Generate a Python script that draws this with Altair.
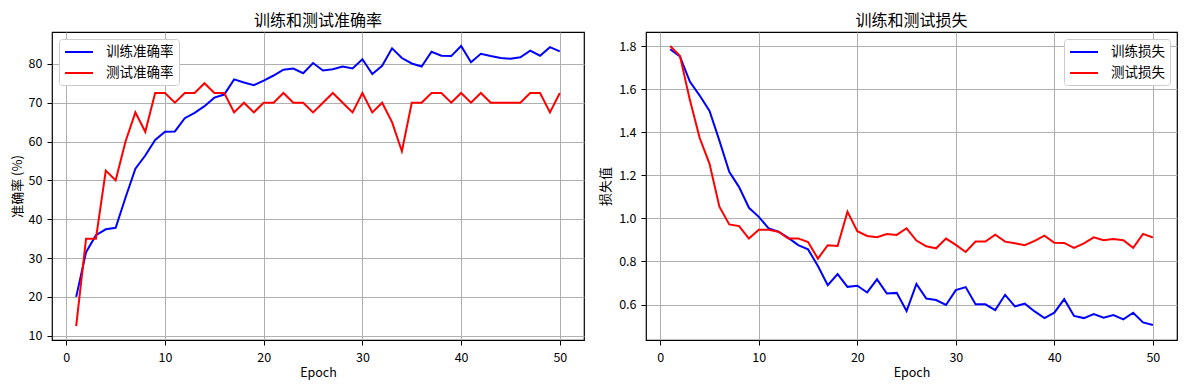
import altair as alt
import pandas as pd

epochs = list(range(1, 51))

train_acc = [20.0, 31.5, 35.9, 37.4, 37.8, 45.6, 53.0, 56.4, 60.4, 62.5,
             62.6, 66.0, 67.4, 69.1, 71.3, 72.1, 76.0, 75.2, 74.5, 75.7,
             77.0, 78.5, 78.8, 77.6, 80.2, 78.3, 78.6, 79.3, 78.8, 81.2,
             77.4, 79.5, 84.0, 81.5, 80.1, 79.3, 83.1, 82.1, 82.0, 84.6,
             80.4, 82.6, 82.0, 81.5, 81.3, 81.7, 83.4, 82.1, 84.3, 83.2]
test_acc = [12.5, 35.0, 35.0, 52.5, 50.0, 60.0, 67.5, 62.5, 72.5, 72.5,
            70.0, 72.5, 72.5, 75.0, 72.5, 72.5, 67.5, 70.0, 67.5, 70.0,
            70.0, 72.5, 70.0, 70.0, 67.5, 70.0, 72.5, 70.0, 67.5, 72.5,
            67.5, 70.0, 65.0, 57.5, 70.0, 70.0, 72.5, 72.5, 70.0, 72.5,
            70.0, 72.5, 70.0, 70.0, 70.0, 70.0, 72.5, 72.5, 67.5, 72.5]
train_loss = [1.785, 1.751, 1.635, 1.570, 1.499, 1.361, 1.216, 1.145, 1.049, 1.007,
              0.953, 0.938, 0.909, 0.876, 0.856, 0.779, 0.690, 0.741, 0.682, 0.687,
              0.656, 0.717, 0.651, 0.654, 0.570, 0.696, 0.628, 0.621, 0.598, 0.667,
              0.681, 0.601, 0.601, 0.574, 0.645, 0.591, 0.604, 0.568, 0.537, 0.562,
              0.625, 0.547, 0.537, 0.556, 0.539, 0.551, 0.531, 0.562, 0.517, 0.505]
test_loss = [1.800, 1.754, 1.550, 1.373, 1.253, 1.054, 0.972, 0.964, 0.906, 0.947,
             0.947, 0.938, 0.906, 0.907, 0.890, 0.813, 0.875, 0.872, 1.031, 0.940,
             0.918, 0.912, 0.927, 0.923, 0.954, 0.897, 0.870, 0.861, 0.906, 0.877,
             0.844, 0.892, 0.892, 0.924, 0.892, 0.884, 0.875, 0.895, 0.920, 0.887,
             0.886, 0.863, 0.884, 0.912, 0.898, 0.904, 0.898, 0.863, 0.928, 0.911]

acc_names = ["训练准确率", "测试准确率"]
loss_names = ["训练损失", "测试损失"]
colors = ["#0000ff", "#ff0000"]

FONT = "Noto Sans CJK SC"

acc_df = pd.DataFrame({
    "epoch": epochs * 2,
    "value": train_acc + test_acc,
    "series": [acc_names[0]] * 50 + [acc_names[1]] * 50,
    "order": [0] * 50 + [1] * 50,
})
loss_df = pd.DataFrame({
    "epoch": epochs * 2,
    "value": train_loss + test_loss,
    "series": [loss_names[0]] * 50 + [loss_names[1]] * 50,
    "order": [0] * 50 + [1] * 50,
})


def x_axis():
    return alt.Axis(values=[0, 10, 20, 30, 40, 50], title="Epoch", grid=True,
                    tickSize=5, labelPadding=6, titlePadding=3,
                    labelFontSize=12.5, titleFontSize=12.5)


def legend(orient):
    return alt.Legend(title=None, orient=orient, offset=7, symbolType="M-2,0H2",
                      symbolSize=196, symbolStrokeWidth=2, labelFontSize=13.5,
                      labelFont=FONT, strokeColor="#cccccc", fillColor="white",
                      cornerRadius=3, padding=5, rowPadding=6, labelOffset=19,
                      symbolOffset=7)


left = alt.Chart(acc_df).mark_line(strokeWidth=2).encode(
    x=alt.X("epoch:Q", scale=alt.Scale(domain=[-1.45, 52.45], nice=False, zero=False),
            axis=x_axis()),
    y=alt.Y("value:Q", scale=alt.Scale(domain=[8.9, 88.2], nice=False, zero=False),
            axis=alt.Axis(values=[10, 20, 30, 40, 50, 60, 70, 80], title="准确率 (%)",
                          tickSize=5, labelPadding=5, titlePadding=4,
                          labelFontSize=12.5, titleFontSize=13)),
    color=alt.Color("series:N", scale=alt.Scale(domain=acc_names, range=colors),
                    legend=legend("top-left")),
    detail="order:O",
).properties(width=532, height=308, title="训练和测试准确率")

right = alt.Chart(loss_df).mark_line(strokeWidth=2).encode(
    x=alt.X("epoch:Q", scale=alt.Scale(domain=[-1.45, 52.45], nice=False, zero=False),
            axis=x_axis()),
    y=alt.Y("value:Q", scale=alt.Scale(domain=[0.4353, 1.865], nice=False, zero=False),
            axis=alt.Axis(values=[0.6, 0.8, 1.0, 1.2, 1.4, 1.6, 1.8], format=".1f",
                          title="损失值", tickSize=5, labelPadding=5, titlePadding=6,
                          labelFontSize=12.5, titleFontSize=13)),
    color=alt.Color("series:N", scale=alt.Scale(domain=loss_names, range=colors),
                    legend=legend("top-right")),
    detail="order:O",
).properties(width=531, height=308, title="训练和测试损失")

chart = alt.hconcat(left, right, spacing=14).resolve_scale(
    color="independent"
).resolve_legend(color="independent").properties(
    padding={"left": 2, "top": 4, "right": 0, "bottom": 0}
).configure(
    font=FONT,
).configure_view(
    stroke="black", strokeWidth=1.2
).configure_axis(
    labelFont=FONT, titleFont=FONT, labelColor="black", titleColor="black",
    titleFontWeight="normal", domain=False, tickColor="black",
    gridColor="#b0b0b0", gridWidth=1, grid=True,
).configure_title(
    font=FONT, fontSize=16, fontWeight="normal", color="black", offset=3,
)

chart.save("out.html", embed_options={"renderer": "svg", "actions": False})
